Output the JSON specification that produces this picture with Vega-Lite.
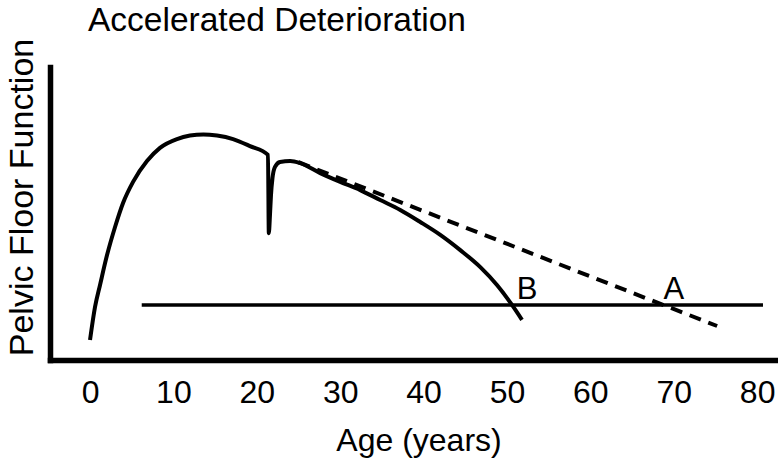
{
  "$schema": "https://vega.github.io/schema/vega-lite/v6.json",
  "autosize": {"type": "none"},
  "width": 728,
  "height": 293,
  "padding": {"left": 50, "top": 67, "right": 0, "bottom": 104},
  "background": "white",
  "config": {
    "view": {"stroke": null},
    "font": "Liberation Sans"
  },
  "title": {
    "text": "Accelerated Deterioration",
    "anchor": "start",
    "frame": "group",
    "orient": "top",
    "baseline": "alphabetic",
    "offset": 6,
    "dy": 32,
    "dx": 38,
    "font": "Liberation Sans",
    "fontSize": 33.5,
    "fontWeight": "normal",
    "color": "black"
  },
  "datasets": {
    "curve": [
      {"age": 0, "pff": 6.8},
      {"age": 0.6, "pff": 18.1},
      {"age": 1.2, "pff": 25.6},
      {"age": 2.04, "pff": 35.8},
      {"age": 3.0, "pff": 45.4},
      {"age": 3.96, "pff": 53.6},
      {"age": 5.16, "pff": 60.8},
      {"age": 6.83, "pff": 67.9},
      {"age": 8.39, "pff": 72.4},
      {"age": 10.43, "pff": 75.4},
      {"age": 11.99, "pff": 76.6},
      {"age": 13.6, "pff": 77.0},
      {"age": 15.23, "pff": 76.6},
      {"age": 17.15, "pff": 75.4},
      {"age": 19.18, "pff": 73.0},
      {"age": 21.34, "pff": 70.0},
      {"age": 21.44, "pff": 43.3},
      {"age": 21.58, "pff": 49.5},
      {"age": 21.7, "pff": 56.3},
      {"age": 21.88, "pff": 62.1},
      {"age": 22.18, "pff": 65.9},
      {"age": 22.78, "pff": 67.6},
      {"age": 24.0, "pff": 67.9},
      {"age": 25.2, "pff": 67.2},
      {"age": 27.6, "pff": 63.8},
      {"age": 30.0, "pff": 60.8},
      {"age": 32.4, "pff": 58.0},
      {"age": 34.8, "pff": 54.6},
      {"age": 37.2, "pff": 51.2},
      {"age": 39.6, "pff": 47.1},
      {"age": 42.0, "pff": 42.7},
      {"age": 44.4, "pff": 37.5},
      {"age": 46.8, "pff": 31.7},
      {"age": 48.8, "pff": 25.6},
      {"age": 50.6, "pff": 18.8},
      {"age": 51.8, "pff": 13.7}
    ],
    "dashed": [
      {"age": 25.0, "pff": 67.5},
      {"age": 75.2, "pff": 11.6}
    ],
    "threshold": [
      {"age": 6.2, "pff": 18.8},
      {"age": 80.7, "pff": 18.8}
    ],
    "labels": [
      {"age": 52.4, "pff": 23.9, "label": "B"},
      {"age": 70.0, "pff": 23.9, "label": "A"}
    ]
  },
  "encoding": {
    "x": {
      "field": "age",
      "type": "quantitative",
      "scale": {"domain": [-4.8, 82.5], "nice": false, "zero": false},
      "axis": {
        "title": "Age (years)",
        "values": [0, 10, 20, 30, 40, 50, 60, 70, 80],
        "grid": false,
        "ticks": false,
        "tickSize": 0,
        "domain": true,
        "domainColor": "black",
        "domainWidth": 5.5,
        "domainCap": "square",
        "labelFont": "Liberation Sans",
        "labelFontSize": 32,
        "labelColor": "black",
        "labelPadding": 17,
        "labelFlush": false,
        "labelOverlap": false,
        "titleFont": "Liberation Sans",
        "titleFontSize": 32,
        "titleFontWeight": "normal",
        "titleColor": "black",
        "titleBaseline": "alphabetic",
        "titleAlign": "center",
        "titleX": 368.5,
        "titleY": 90
      }
    },
    "y": {
      "field": "pff",
      "type": "quantitative",
      "scale": {"domain": [0, 100], "nice": false},
      "axis": {
        "title": "Pelvic Floor Function",
        "labels": false,
        "grid": false,
        "ticks": false,
        "tickSize": 0,
        "domain": true,
        "domainColor": "black",
        "domainWidth": 5.5,
        "domainCap": "square",
        "titleFont": "Liberation Sans",
        "titleFontSize": 34,
        "titleFontWeight": "normal",
        "titleColor": "black",
        "titleAngle": -90,
        "titleBaseline": "alphabetic",
        "titleAlign": "center",
        "titleX": -18,
        "titleY": 130
      }
    }
  },
  "layer": [
    {
      "data": {"name": "curve"},
      "mark": {"type": "line", "interpolate": "monotone", "color": "black", "strokeWidth": 4, "strokeJoin": "miter"}
    },
    {
      "data": {"name": "dashed"},
      "mark": {"type": "line", "color": "black", "strokeWidth": 4, "strokeDash": [12, 8]}
    },
    {
      "data": {"name": "threshold"},
      "mark": {"type": "line", "color": "black", "strokeWidth": 3.5}
    },
    {
      "data": {"name": "labels"},
      "mark": {"type": "text", "font": "Liberation Sans", "fontSize": 31, "color": "black", "baseline": "middle", "align": "center"},
      "encoding": {"text": {"field": "label", "type": "nominal"}}
    }
  ]
}
